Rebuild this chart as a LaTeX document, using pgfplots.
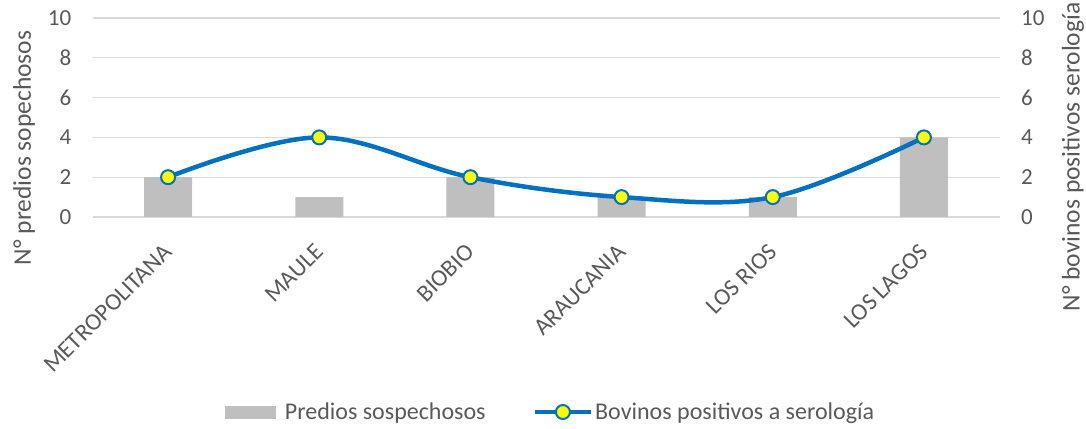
\documentclass[border=0pt]{standalone}
\usepackage{fontspec}
\setmainfont{Carlito}
\usepackage{pgfplots}
\pgfplotsset{compat=1.18}
\definecolor{barcol}{HTML}{BFBFBF}
\definecolor{linecol}{HTML}{0070C0}
\definecolor{markcol}{HTML}{FFFF00}
\definecolor{textcol}{HTML}{595959}
\definecolor{gridcol}{HTML}{D9D9D9}
\pgfplotsset{
  barlegend/.style={legend image code/.code={\fill[barcol, draw=none] (0pt,-6.5pt) rectangle (51pt,6.5pt); \path[draw=none, fill=none] (0pt,0pt) rectangle (58pt,0.1pt);}},
  linelegend/.style={legend image code/.code={\draw[##1, mark repeat=2, mark phase=2] plot coordinates {(0pt,0pt) (28pt,0pt) (56pt,0pt)};}},
}
\pgfplotstableread{
x bars line
0 2 2
1 1 4
2 2 2
3 1 1
4 1 1
5 4 4
}\datatable
\begin{document}
\begin{tikzpicture}
\path[use as bounding box] (0pt,0pt) rectangle (1086pt,428pt);
\pgfplotsset{
  common/.style={
    at={(92.5pt,211pt)}, anchor=south west,
    scale only axis, width=907pt, height=199pt,
    xmin=-0.5, xmax=5.5, ymin=0, ymax=10,
    ytick={0,2,...,10},
    axis line style={draw=none},
    major tick length=0pt,
    /pgf/number format/assume math mode=true,
    tick label style={font=\fontsize{23}{27}\selectfont, text=textcol},
    label style={font=\fontsize{25.5}{29}\selectfont, text=textcol},
  }
}
\begin{axis}[common,
  xtick={0,...,5},
  xticklabels={METROPOLITANA,MAULE,BIOBIO,ARAUCANIA,LOS RIOS,LOS LAGOS},
  xticklabel shift=31pt,
  xticklabel style={rotate=45, anchor=east, inner sep=0pt, font=\fontsize{24}{28}\selectfont},
  yticklabel style={anchor=east, inner sep=0pt, xshift=-21pt},
  ymajorgrids, grid style={draw=gridcol, line width=1.3pt},
  ylabel={N° predios sopechosos},
  ylabel style={at={(axis description cs:-0.0755,0.347)}, anchor=center},
]
\addplot[ybar, bar width=48pt, fill=barcol, draw=none] table[x=x, y=bars] {\datatable};
\end{axis}
\begin{axis}[common,
  axis x line=none,
  axis y line*=right,
  xtick=\empty,
  yticklabel style={anchor=west, inner sep=0pt, xshift=21.5pt},
  ylabel={N° bovinos positivos serología},
  ylabel style={at={(axis description cs:1.081,0.3015)}, anchor=center},
  legend style={at={(axis description cs:0.505,-0.98)}, anchor=center, draw=none, fill=none,
    legend columns=2, font=\fontsize{24}{28}\selectfont, text=textcol,
    /tikz/every even column/.append style={column sep=45pt}},
]
\addlegendimage{barlegend}
\addlegendentry{Predios sospechosos}
\addplot[smooth, tension=0.6, color=linecol, line width=4.5pt,
  mark=*, mark size=7pt,
  mark options={fill=markcol, draw=linecol, line width=2pt},
  linelegend]
  table[x=x, y=line] {\datatable};
\addlegendentry{Bovinos positivos a serología}
\end{axis}
\end{tikzpicture}
\end{document}
